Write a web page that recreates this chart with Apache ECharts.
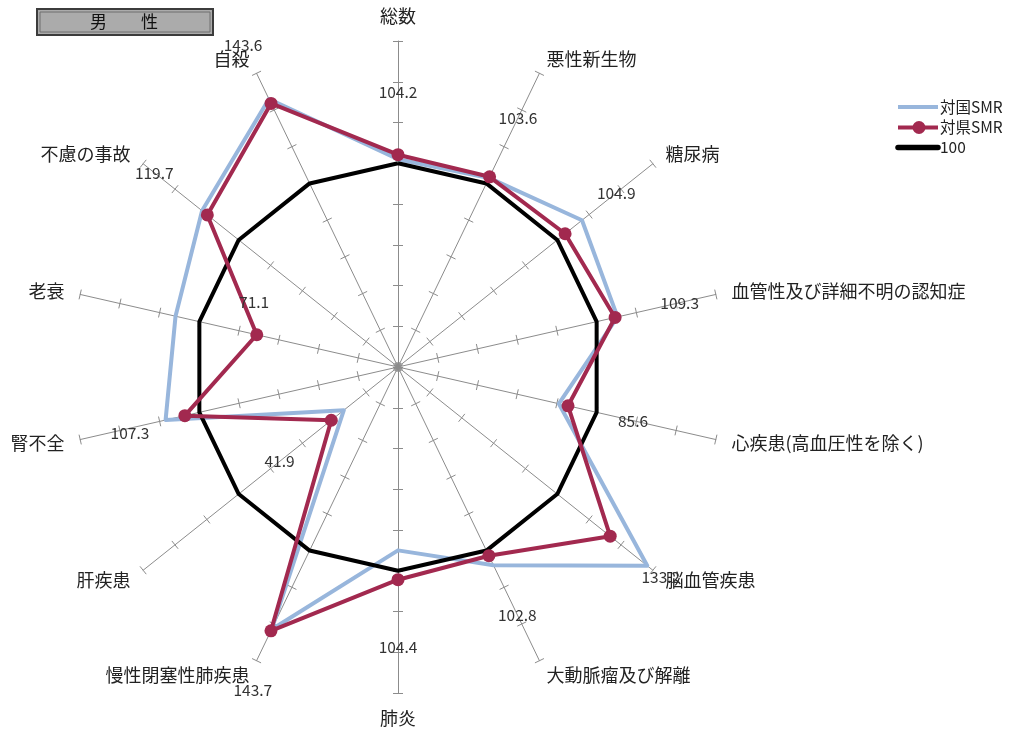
<!DOCTYPE html>
<html><head><meta charset="utf-8">
<script src="https://cdn.jsdelivr.net/npm/echarts@6/dist/echarts.min.js"></script>
<style>html,body{margin:0;padding:0;background:#fff}#c{width:1026px;height:734px}</style>
</head><body><div id="c"></div>
<script>
// ---------- data ----------
const categories = ['総数','悪性新生物','糖尿病','血管性及び詳細不明の認知症','心疾患(高血圧性を除く)','脳血管疾患','大動脈瘤及び解離','肺炎','慢性閉塞性肺疾患','肝疾患','腎不全','老衰','不慮の事故','自殺'];
const nationalSMR = [102, 103, 115.5, 110.5, 81, 156.5, 108, 90, 143, 34, 117, 112, 123, 146];
const prefSMR     = [104.2, 103.6, 104.9, 109.3, 85.6, 133.2, 102.8, 104.4, 143.7, 41.9, 107.3, 71.1, 119.7, 143.6];
const baseline    = [100, 100, 100, 100, 100, 100, 100, 100, 100, 100, 100, 100, 100, 100];
const seriesNames = ['対国SMR', '対県SMR', '100'];
const axisMin = 0, axisMax = 160, axisStep = 20;
const chartTitle = '男　　性';

// ---------- layout ----------
const CX = 398, CY = 367, R = 326;
const FONT = '"Noto Sans CJK JP", "Noto Sans", sans-serif';
const colors = { nat: '#98B6DC', pref: '#A2294F', base: '#000000', axis: '#8C8C8C' };
// value-label anchor (in axis units along each spoke) and small angular nudge (deg)
const labelAt = [135, 135.7, 137, 141.8, 118.3, 165, 135, 137.4, 173.7, 74.4, 135.5, 77.5, 153, 175.2];
const labelNudge = [0, 0, 0, 0, 0, 0, 0, 0, -1.5, 0, -1, 11.5, 0, 0];

// ECharts radar runs counter-clockwise; reorder so the picture reads clockwise
const n = categories.length;
const order = [0].concat(Array.from({length: n - 1}, (_, k) => n - 1 - k));
const ro = arr => order.map(i => arr[i]);
const indicators = order.map(i => ({ name: categories[i], min: axisMin, max: axisMax }));

function spokePoint(i, v, nudgeDeg) {
  const a = (i * 360 / n + (nudgeDeg || 0)) * Math.PI / 180;
  const r = (v - axisMin) / (axisMax - axisMin) * R;
  return [CX + r * Math.sin(a), CY - r * Math.cos(a)];
}

const graphics = [];
// title box
graphics.push({ type: 'rect', shape: { x: 37, y: 9, width: 176, height: 26 }, style: { fill: '#ABABAB', stroke: '#3C3C3C', lineWidth: 2 }, z: 10 });
graphics.push({ type: 'rect', shape: { x: 40, y: 12, width: 170, height: 20 }, style: { fill: 'none', stroke: '#6E6E6E', lineWidth: 1 }, z: 11 });
graphics.push({ type: 'text', x: 124, y: 22, style: { text: chartTitle, fill: '#111', font: '17px ' + FONT, textAlign: 'center', textVerticalAlign: 'middle' }, z: 12 });

// value labels (対県SMR)
prefSMR.forEach((v, i) => {
  const p = spokePoint(i, labelAt[i], labelNudge[i]);
  graphics.push({ type: 'text', x: p[0], y: p[1], style: { text: v.toFixed(1), fill: '#333', font: '15.5px ' + FONT, textAlign: 'center', textVerticalAlign: 'middle' }, z: 20 });
});

// legend
const LX = 898, LY = [107, 127.5, 147.5];
graphics.push({ type: 'line', shape: { x1: LX, y1: LY[0], x2: LX + 40, y2: LY[0] }, style: { stroke: colors.nat, lineWidth: 4 }, z: 20 });
graphics.push({ type: 'line', shape: { x1: LX, y1: LY[1], x2: LX + 40, y2: LY[1] }, style: { stroke: colors.pref, lineWidth: 4 }, z: 20 });
graphics.push({ type: 'circle', shape: { cx: LX + 21, cy: LY[1], r: 6.5 }, style: { fill: colors.pref }, z: 21 });
graphics.push({ type: 'line', shape: { x1: LX, y1: LY[2], x2: LX + 40, y2: LY[2] }, style: { stroke: colors.base, lineWidth: 5.5, lineCap: 'round' }, z: 20 });
seriesNames.forEach((s, k) => {
  graphics.push({ type: 'text', x: LX + 42, y: LY[k], style: { text: s, fill: '#222', font: '15.5px ' + FONT, textVerticalAlign: 'middle' }, z: 20 });
});

const commonRadar = {
  center: [CX, CY], radius: R, startAngle: 90, splitNumber: (axisMax - axisMin) / axisStep,
  shape: 'polygon', indicator: indicators,
  splitLine: { show: false }, splitArea: { show: false }, axisLabel: { show: false }
};

const chart = echarts.init(document.getElementById('c'), null, { renderer: 'canvas' });
chart.setOption({
  backgroundColor: '#fff',
  animation: false,
  radar: [
    Object.assign({}, commonRadar, {
      nameGap: 16,
      axisName: { color: '#222', fontSize: 18, fontFamily: FONT },
      axisLine: { show: true, lineStyle: { color: colors.axis, width: 1 } },
      axisTick: { show: true, length: 5, lineStyle: { color: colors.axis, width: 1 } }
    }),
    Object.assign({}, commonRadar, {
      axisName: { show: false },
      axisLine: { show: false },
      axisTick: { show: true, length: -5, lineStyle: { color: colors.axis, width: 1 } }
    })
  ],
  series: [
    { type: 'radar', radarIndex: 0, name: seriesNames[0], symbol: 'none', z: 2,
      lineStyle: { color: colors.nat, width: 4 }, itemStyle: { color: colors.nat },
      data: [{ name: seriesNames[0], value: ro(nationalSMR) }] },
    { type: 'radar', radarIndex: 0, name: seriesNames[2], symbol: 'none', z: 3,
      lineStyle: { color: colors.base, width: 4 }, itemStyle: { color: colors.base },
      data: [{ name: seriesNames[2], value: ro(baseline) }] },
    { type: 'radar', radarIndex: 0, name: seriesNames[1], symbol: 'circle', symbolSize: 13, z: 4,
      lineStyle: { color: colors.pref, width: 4 }, itemStyle: { color: colors.pref },
      data: [{ name: seriesNames[1], value: ro(prefSMR) }] }
  ],
  graphic: graphics
});
</script></body></html>
